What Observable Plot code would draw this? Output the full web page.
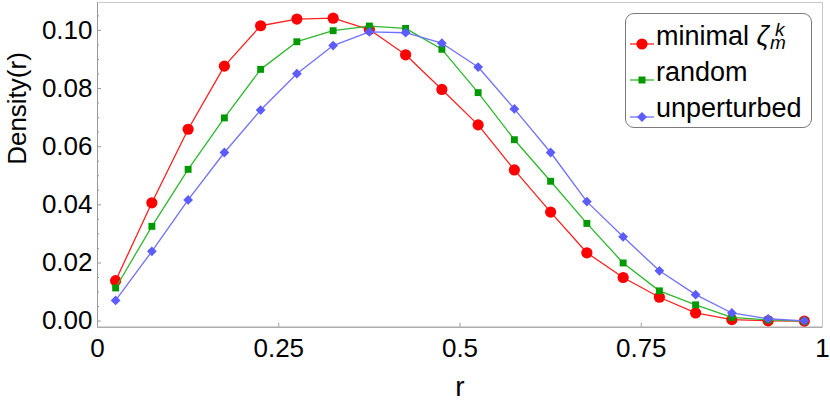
<!DOCTYPE html>
<html><head><meta charset="utf-8">
<script src="https://cdn.jsdelivr.net/npm/d3@7"></script>
<script src="https://cdn.jsdelivr.net/npm/@observablehq/plot@0.6"></script>
<style>
body{margin:0;background:#fff;font-family:"Liberation Sans",Arial,Helvetica,sans-serif;}
#wrap{position:relative;width:830px;height:404px;overflow:hidden;}
#wrap svg.chart{position:absolute;left:0;top:0;}
#legend{position:absolute;left:625px;top:13px;width:187px;height:115px;border:1.5px solid #7a7a7a;border-radius:9px;background:#fff;box-sizing:border-box;}
.sw{position:absolute;left:2px;}
.lab{position:absolute;left:30px;font-size:27px;line-height:27px;white-space:nowrap;color:#000;}
.ss{position:relative;display:inline-block;width:22px;height:20px;}
.ss i{position:absolute;font-size:19px;line-height:12px;}
</style></head><body><div id="wrap"></div>
<script>
// ---- data ----
const rValues = [0.025,0.075,0.125,0.175,0.225,0.275,0.325,0.375,0.425,0.475,0.525,0.575,0.625,0.675,0.725,0.775,0.825,0.875,0.925,0.975];
const minimalDensity = [0.0139,0.0407,0.0660,0.0877,0.1016,0.1039,0.1042,0.1003,0.0916,0.0797,0.0675,0.0520,0.0375,0.0235,0.0150,0.0082,0.0028,0.0005,0.0001,0.0000];
const randomDensity = [0.0114,0.0326,0.0522,0.0699,0.0866,0.0961,0.0999,0.1015,0.1007,0.0935,0.0786,0.0624,0.0481,0.0336,0.0200,0.0104,0.0056,0.0013,0.0004,0.0000];
const unperturbedDensity = [0.0071,0.0240,0.0417,0.0580,0.0726,0.0851,0.0948,0.0995,0.0992,0.0956,0.0874,0.0730,0.0580,0.0411,0.0290,0.0173,0.0091,0.0028,0.0008,0.0001];
const xTickValues = [0, 0.25, 0.5, 0.75, 1];
const xTickLabels = ["0", "0.25", "0.5", "0.75", "1"];
const yTickValues = [0, 0.02, 0.04, 0.06, 0.08, 0.10];
const yTickLabels = ["0.00", "0.02", "0.04", "0.06", "0.08", "0.10"];
const yMinorTicks = [0.005,0.01,0.015,0.025,0.03,0.035,0.045,0.05,0.055,0.065,0.07,0.075,0.085,0.09,0.095,0.105];
const xMinorTicks = [0.25, 0.5, 0.75];

// ---- build ----
const mk = arr => rValues.map((r, i) => ({r, v: arr[i]}));
const dMin = mk(minimalDensity), dRand = mk(randomDensity), dUnp = mk(unperturbedDensity);
const yDomain = [-0.0021, 0.1096];
const axisCol = "#9a9a9a";
const xPx = 725, yPx = 324.7 / (yDomain[1] - yDomain[0]);

const chart = Plot.plot({
  width: 830, height: 404,
  marginLeft: 97, marginRight: 8, marginTop: 2, marginBottom: 77.3,
  x: {domain: [0, 1]},
  y: {domain: yDomain},
  style: {fontFamily: '"Liberation Sans", Arial, sans-serif', background: "white", color: "black"},
  marks: [
    Plot.frame({stroke: "#c8c8c8"}),
    Plot.ruleX([0], {stroke: axisCol}),
    Plot.ruleY([yDomain[0]], {stroke: axisCol}),
    Plot.ruleY(yTickValues, {y: d => d, x1: 0, x2: 4 / xPx, stroke: axisCol}),
    Plot.ruleY(yMinorTicks, {y: d => d, x1: 0, x2: 2 / xPx, stroke: axisCol}),
    Plot.ruleX(xMinorTicks, {x: d => d, y1: yDomain[0], y2: yDomain[0] + 4 / yPx, stroke: axisCol}),
    Plot.axisY(yTickValues, {tickSize: 0, tickPadding: 5, tickFormat: (d, i) => yTickLabels[i], fontSize: 26, label: null}),
    Plot.axisX(xTickValues, {tickSize: 0, tickPadding: 11, tickFormat: (d, i) => xTickLabels[i], fontSize: 26, label: null}),
    Plot.line(dMin, {x: "r", y: "v", stroke: "#ff2020", strokeWidth: 1.3}),
    Plot.dot(dMin, {x: "r", y: "v", symbol: "circle", r: 5.6, fill: "#ff0000"}),
    Plot.line(dRand, {x: "r", y: "v", stroke: "#2db82d", strokeWidth: 1.3}),
    Plot.dot(dRand, {x: "r", y: "v", symbol: "square", r: 3.9, fill: "#009a00"}),
    Plot.line(dUnp, {x: "r", y: "v", stroke: "#7070ff", strokeWidth: 1.3}),
    Plot.dot(dUnp, {x: "r", y: "v", symbol: "diamond2", r: 4.4, fill: "#5c5cff", stroke: "none"}),
    Plot.text(["r"], {text: d => d, frameAnchor: "bottom", dy: 69, fontSize: 28}),
    Plot.text(["Density(r)"], {text: d => d, frameAnchor: "left", dx: -80, rotate: -90, fontSize: 26})
  ]
});
chart.classList.add("chart");
const wrap = document.getElementById("wrap");
wrap.appendChild(chart);

// ---- legend ----
const legend = document.createElement("div");
legend.id = "legend";
const rows = [
  {color: "#ff2020", fill: "#ff0000", shape: "circle", my: 29.5, base: 31.5, html: 'minimal <i>ζ</i><span class="ss"><i style="left:6px;top:-1px">k</i><i style="left:1px;top:12.5px">m</i></span>'},
  {color: "#2db82d", fill: "#009a00", shape: "square", my: 65.5, base: 67.5, html: 'random'},
  {color: "#7070ff", fill: "#5c5cff", shape: "diamond", my: 102.5, base: 104, html: 'unperturbed'}
];
for (const row of rows) {
  const sw = document.createElementNS("http://www.w3.org/2000/svg", "svg");
  sw.setAttribute("class", "sw");
  sw.setAttribute("width", 28); sw.setAttribute("height", 16);
  sw.style.top = (row.my - 8) + "px";
  let shape = "";
  if (row.shape === "circle") shape = `<circle cx="14" cy="8" r="5.6" fill="${row.fill}"/>`;
  else if (row.shape === "square") shape = `<rect x="10.5" y="4.5" width="7" height="7" fill="${row.fill}"/>`;
  else shape = `<path d="M14,3L19,8L14,13L9,8Z" fill="${row.fill}"/>`;
  sw.innerHTML = `<line x1="2" x2="26" y1="8" y2="8" stroke="${row.color}" stroke-width="1.3"/>` + shape;
  legend.appendChild(sw);
  const lab = document.createElement("div");
  lab.className = "lab";
  lab.style.top = (row.base - 23) + "px";
  lab.innerHTML = row.html;
  legend.appendChild(lab);
}
wrap.appendChild(legend);
</script>
</body></html>
